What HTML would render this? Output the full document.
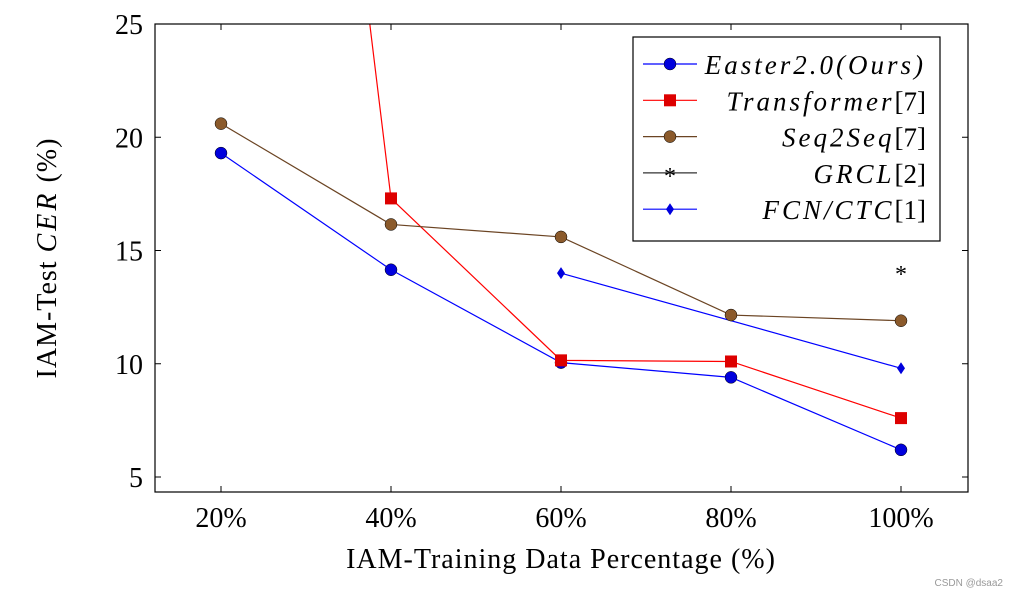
<!DOCTYPE html>
<html><head><meta charset="utf-8">
<style>
body{margin:0;background:#fff;}
svg{display:block;font-family:"Liberation Serif",serif;}
</style></head>
<body>
<svg id="chart" width="1016" height="595" viewBox="0 0 1016 595" xmlns="http://www.w3.org/2000/svg">
<defs><clipPath id="clip"><rect x="155" y="24" width="813" height="468"/></clipPath></defs>
<g id="grid"></g>
<g id="series" clip-path="url(#clip)"></g>
<g id="markers"></g>
<rect x="155" y="24" width="813" height="468" fill="none" stroke="#000" stroke-width="1.2"/>
<g id="axes"></g>
<text x="561" y="568" font-size="28" letter-spacing="1" text-anchor="middle">IAM-Training Data Percentage (%)</text>
<text transform="translate(56,258) rotate(-90)" font-size="28" letter-spacing="1" text-anchor="middle">IAM-Test <tspan font-style="italic" letter-spacing="3">CER</tspan> (%)</text>
<g id="legend"></g>
<text x="1003" y="586" font-size="10" fill="#999" text-anchor="end" font-family="Liberation Sans, sans-serif">CSDN @dsaa2</text>
</svg>
<script>
const categories=["20%","40%","60%","80%","100%"];
const yTicks=[5,10,15,20,25];
const easter=[19.3,14.15,10.05,9.4,6.2];
const transformer=[79,17.3,10.15,10.1,7.6];
const seq2seq=[20.6,16.15,15.6,12.15,11.9];
const grcl=[null,null,null,null,14.1];
const fcn=[null,null,14.0,null,9.8];
const NS="http://www.w3.org/2000/svg";
const xS=i=>221+i*170;
const yS=v=>477-(v-5)*22.65;
function mk(tag,attrs,parent){const e=document.createElementNS(NS,tag);for(const k in attrs)e.setAttribute(k,attrs[k]);document.getElementById(parent).appendChild(e);return e;}
const axes="axes";
categories.forEach((c,i)=>{
 let t=mk("line",{x1:xS(i),x2:xS(i),y1:492,y2:486,stroke:"#000"},axes);
 
 
 let t2=mk("line",{x1:xS(i),x2:xS(i),y1:24,y2:30,stroke:"#000"},axes);
 
 
 let l=mk("text",{x:xS(i),y:527,"font-size":28,"text-anchor":"middle"},axes);l.textContent=c;
 
 
});
yTicks.forEach(v=>{
 let t=mk("line",{x1:155,x2:161,y1:yS(v),y2:yS(v),stroke:"#000"},axes);
 
 
 let t2=mk("line",{x1:962,x2:968,y1:yS(v),y2:yS(v),stroke:"#000"},axes);
 
 
 let l=mk("text",{x:143,y:yS(v)+10,"font-size":28,"text-anchor":"end"},axes);l.textContent=v;
 
 
});
function marker(type,x,y,color,parent){
 let e;
 if(type==="circle")e=mk("circle",{cx:x,cy:y,r:6,fill:color,stroke:"#000","stroke-width":0.5},parent);
 else if(type==="square")e=mk("rect",{x:x-6,y:y-6,width:12,height:12,fill:color},parent);
 else if(type==="diamond")e=mk("polygon",{points:`${x},${y-6} ${x+4},${y} ${x},${y+6} ${x-4},${y}`,fill:color},parent);
 else {e=mk("text",{x:x,y:y+11,"font-size":24,"text-anchor":"middle",fill:color},parent);e.textContent="*";}
 return e;
}
const seriesList=[
 {name:"easter",data:easter,color:"#0000ff",mc:"#0000dd",m:"circle",label:"Easter2.0(Ours)",ref:""},
 {name:"transformer",data:transformer,color:"#ff0000",mc:"#dd0000",m:"square",label:"Transformer",ref:"[7]"},
 {name:"seq2seq",data:seq2seq,color:"#6b4423",mc:"#8b5a2b",m:"circle",label:"Seq2Seq",ref:"[7]"},
 {name:"grcl",data:grcl,color:"#333",mc:"#000",m:"star",label:"GRCL",ref:"[2]"},
 {name:"fcn",data:fcn,color:"#0000ff",mc:"#0000dd",m:"diamond",label:"FCN/CTC",ref:"[1]"}
];
seriesList.forEach(s=>{
 const pts=s.data.map((v,i)=>v==null?null:[xS(i),yS(v)]).filter(p=>p);
 if(pts.length>1){let p=mk("polyline",{points:pts.map(p=>p.join(",")).join(" "),fill:"none",stroke:s.color,"stroke-width":1.2},"series");
  
  }
 s.data.forEach((v,i)=>{if(v==null||v>25)return;
  let m=marker(s.m,xS(i),yS(v),s.mc,"markers");
  
  });
});
let box=mk("rect",{x:633,y:37,width:307,height:204,fill:"#fff",stroke:"#000","stroke-width":1.2},"legend");


seriesList.forEach((s,k)=>{
 const y=64+k*36.3;
 let g=mk("g",{},"legend");
 
 
 g.id="le"+k;
 mk("line",{x1:643,x2:697,y1:y,y2:y,stroke:s.color,"stroke-width":1.2},g.id);
 marker(s.m,670,y,s.mc,g.id);
 let t=mk("text",{x:926,y:y+10,"font-size":27,"text-anchor":"end"},g.id);
 t.innerHTML=`<tspan font-style="italic" letter-spacing="3">${s.label}</tspan>${s.ref}`;
});
</script>
</body></html>
